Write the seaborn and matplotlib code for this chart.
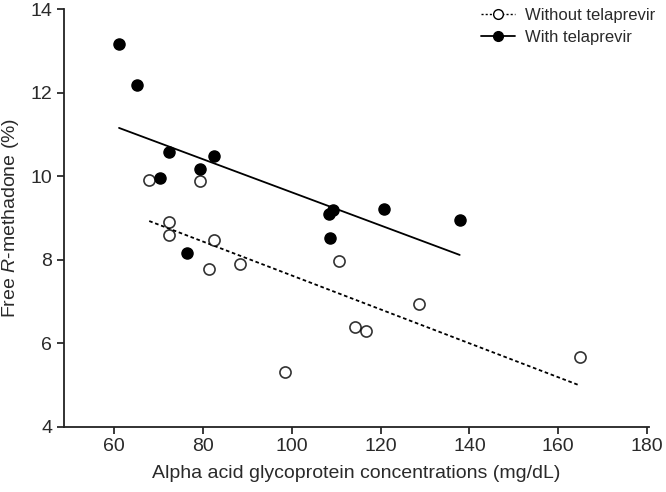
import matplotlib
matplotlib.use("Agg")
import matplotlib.pyplot as plt
from matplotlib.lines import Line2D
import seaborn as sns
import pandas as pd

with_x = [61.1, 65.2, 72.3, 70.3, 79.3, 82.5, 76.4, 108.3, 109.3, 108.7, 120.7, 137.8]
with_y = [13.17, 12.18, 10.57, 9.95, 10.17, 10.49, 8.15, 9.10, 9.20, 8.53, 9.21, 8.94]
without_x = [67.9, 79.3, 72.4, 72.3, 82.5, 81.4, 88.3, 98.5, 110.6, 128.7, 114.3, 116.6, 164.9]
without_y = [9.91, 9.88, 8.90, 8.59, 8.47, 7.77, 7.90, 5.30, 7.98, 6.94, 6.39, 6.29, 5.66]
series_labels = ["Without telaprevir", "With telaprevir"]
x_ticks = [60, 80, 100, 120, 140, 160, 180]
y_ticks = [4, 6, 8, 10, 12, 14]

sns.set_style("ticks")
plt.rcParams['font.family'] = ['Liberation Sans', 'DejaVu Sans']
plt.rcParams['mathtext.fontset'] = 'custom'
plt.rcParams['mathtext.it'] = 'Liberation Sans:italic'
plt.rcParams['mathtext.rm'] = 'Liberation Sans'

df_with = pd.DataFrame({"x": with_x, "y": with_y})
df_without = pd.DataFrame({"x": without_x, "y": without_y})

txt = "#2a2a2a"
fig = plt.figure(figsize=(6.66, 4.92), dpi=100)
ax = fig.add_axes([0.096, 0.133, 0.879, 0.848])

sns.regplot(data=df_without, x="x", y="y", ci=None, truncate=True, ax=ax,
            scatter_kws=dict(s=64, facecolor="white", edgecolor="black", linewidths=1.2, zorder=3),
            line_kws=dict(color="black", lw=1.3, linestyle=(0, (2, 1.5))))
sns.regplot(data=df_with, x="x", y="y", ci=None, truncate=True, ax=ax,
            scatter_kws=dict(s=64, color="black", zorder=3, alpha=1),
            line_kws=dict(color="black", lw=1.3))

ax.set_xlim(48.7, 180.5)
ax.set_ylim(4, 14)
ax.set_xticks(x_ticks)
ax.set_yticks(y_ticks)
ax.set_xlabel("Alpha acid glycoprotein concentrations (mg/dL)", fontsize=14, color=txt, labelpad=7)
ax.set_ylabel(r"Free $\it{R}$-methadone (%)", fontsize=14, color=txt, labelpad=7)
ax.tick_params(axis="both", labelsize=14, width=1.3, length=5, colors=txt, direction="out")
for s in ["left", "bottom"]:
    ax.spines[s].set_linewidth(1.3)
    ax.spines[s].set_color("#222222")
sns.despine(ax=ax)

handles = [
    Line2D([], [], color="black", lw=1.0, linestyle=(0, (1.5, 1.5)), marker="o", markersize=7,
           markerfacecolor="white", markeredgecolor="black"),
    Line2D([], [], color="black", lw=1.3, marker="o", markersize=7,
           markerfacecolor="black", markeredgecolor="black"),
]
leg = ax.legend(handles, series_labels, loc="upper right", bbox_to_anchor=(1.035, 1.04), frameon=False,
                fontsize=12, handlelength=2.0, handletextpad=0.6, labelspacing=0.45)
for t in leg.get_texts():
    t.set_color(txt)

fig.savefig("out.png", dpi=100)
